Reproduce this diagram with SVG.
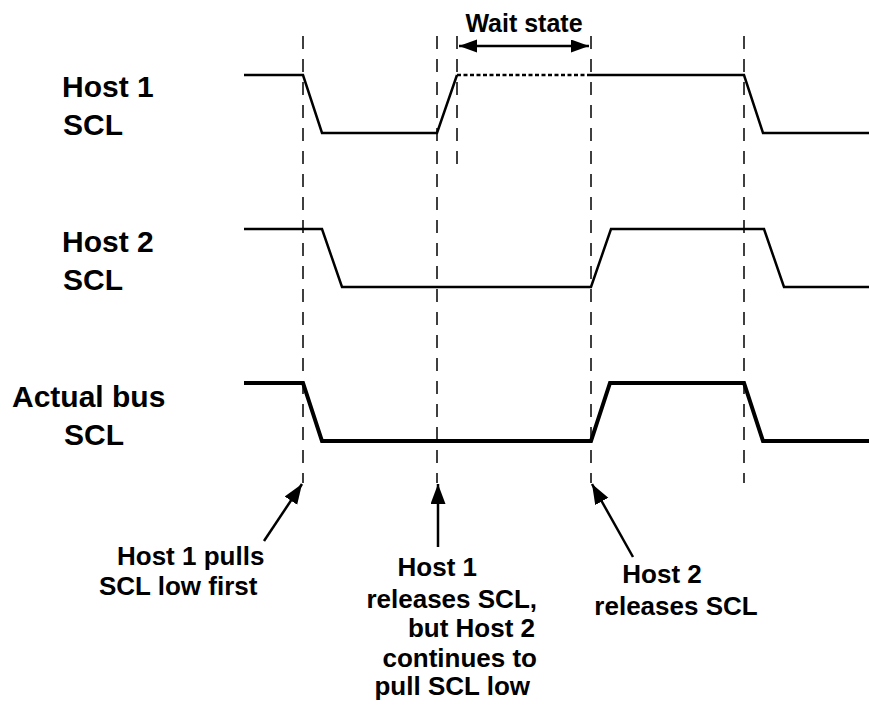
<svg xmlns="http://www.w3.org/2000/svg" width="869" height="705" viewBox="0 0 869 705">
  <style>
    text { font-family: "Liberation Sans", Arial, Helvetica, sans-serif; font-weight: bold; fill: #000; }
    .lbl { font-size: 30px; }
    .ann { font-size: 26px; }
    .wave { fill: none; stroke: #000; stroke-width: 2.5; stroke-linejoin: miter; }
    .bus { fill: none; stroke: #000; stroke-width: 4; stroke-linejoin: miter; }
    .guide { fill: none; stroke: #000; stroke-width: 1.5; stroke-dasharray: 13 10; }
    .dot { fill: none; stroke: #000; stroke-width: 2.5; stroke-dasharray: 4 2.5; }
    .arr { fill: none; stroke: #000; stroke-width: 2.5; }
  </style>
  <defs>
    <marker id="ah" markerUnits="userSpaceOnUse" markerWidth="22" markerHeight="16" refX="20" refY="7.5" orient="auto-start-reverse">
      <path d="M0,0 L20,7.5 L0,15 z" fill="#000"/>
    </marker>
    <marker id="ahs" markerUnits="userSpaceOnUse" markerWidth="20" markerHeight="14" refX="18" refY="6.5" orient="auto-start-reverse">
      <path d="M0,0 L18,6.5 L0,13 z" fill="#000"/>
    </marker>
  </defs>

  <g id="labels">
    <g id="label-host1">
      <text class="lbl" x="62" y="97">Host 1</text>
      <text class="lbl" x="63" y="135">SCL</text>
    </g>
    <g id="label-host2">
      <text class="lbl" x="62" y="252">Host 2</text>
      <text class="lbl" x="63" y="290">SCL</text>
    </g>
    <g id="label-bus">
      <text class="lbl" x="12" y="407">Actual bus</text>
      <text class="lbl" x="64" y="445">SCL</text>
    </g>
  </g>

  <g id="waveforms">
    <g id="wave-host1">
      <polyline class="wave" points="244,75 303,75 322,133 437,133 457,75"/>
      <line class="dot" x1="457" y1="75" x2="591" y2="75"/>
      <polyline class="wave" points="591,75 744,75 763,133 869,133"/>
    </g>
    <g id="wave-host2">
      <polyline class="wave" points="244,229 322,229 342,287 591,287 611,229 764,229 784,287 869,287"/>
    </g>
    <g id="wave-bus">
      <polyline class="bus" points="244,383 303,383 322,441 591,441 610,383 744,383 763,441 869,441"/>
    </g>
  </g>

  <g id="connectors">
    <line class="guide" x1="303" y1="36" x2="303" y2="483"/>
    <line class="guide" x1="437" y1="36" x2="437" y2="483"/>
    <line class="guide" x1="457" y1="36" x2="457" y2="172"/>
    <line class="guide" x1="591" y1="36" x2="591" y2="483"/>
    <line class="guide" x1="744" y1="36" x2="744" y2="483"/>
    <line class="arr" x1="459" y1="46" x2="589" y2="46" marker-start="url(#ahs)" marker-end="url(#ahs)"/>
    <line class="arr" x1="264" y1="541" x2="302" y2="484" marker-end="url(#ah)"/>
    <line class="arr" x1="438" y1="547" x2="438" y2="484" marker-end="url(#ah)"/>
    <line class="arr" x1="633" y1="557" x2="592" y2="484" marker-end="url(#ah)"/>
  </g>

  <g id="wait-state">
    <text x="524" y="32" font-size="25" text-anchor="middle">Wait state</text>
  </g>

  <g id="note-host1-pulls">
    <text class="ann" x="117" y="565">Host 1 pulls</text>
    <text class="ann" x="99" y="595">SCL low first</text>
  </g>

  <g id="note-host1-releases" text-anchor="end">
    <text class="ann" x="477" y="576">Host 1</text>
    <text class="ann" x="537" y="608">releases SCL,</text>
    <text class="ann" x="535" y="637">but Host 2</text>
    <text class="ann" x="537" y="667">continues to</text>
    <text class="ann" x="530" y="695">pull SCL low</text>
  </g>

  <g id="note-host2-releases" text-anchor="middle">
    <text class="ann" x="662" y="583">Host 2</text>
    <text class="ann" x="676" y="615">releases SCL</text>
  </g>
</svg>
